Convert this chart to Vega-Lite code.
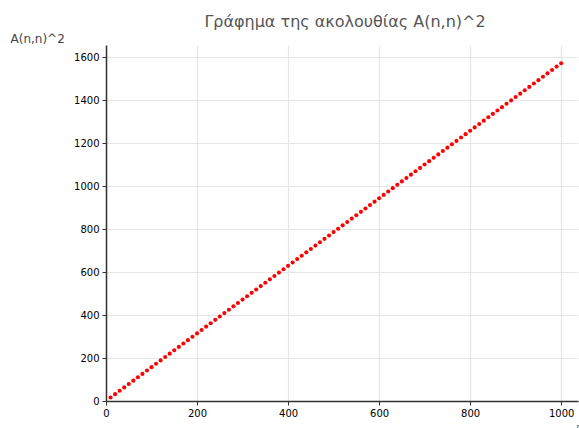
{
  "$schema": "https://vega.github.io/schema/vega-lite/v6.json",
  "width": 472,
  "height": 356,
  "autosize": {"type": "none"},
  "padding": {"left": 106, "top": 45, "right": 1, "bottom": 27},
  "background": "white",
  "title": {
    "text": "Γράφημα της ακολουθίας A(n,n)^2",
    "font": "DejaVu Sans",
    "fontSize": 16,
    "fontWeight": "normal",
    "color": "#555555",
    "anchor": "middle",
    "dx": 3,
    "offset": 2
  },
  "config": {
    "view": {"stroke": null},
    "axis": {
      "labelFont": "DejaVu Sans",
      "titleFont": "DejaVu Sans",
      "labelFontSize": 10,
      "labelColor": "#000000",
      "labelFlush": false,
      "domainColor": "#333333",
      "domainWidth": 1.5,
      "tickColor": "#333333",
      "gridColor": "#e6e6e6",
      "gridWidth": 1.2,
      "tickSize": 4,
      "format": "d"
    }
  },
  "data": {
    "values": [
      {"n": 10, "v": 16.1}, {"n": 20, "v": 31.8}, {"n": 30, "v": 47.5}, {"n": 40, "v": 63.2}, {"n": 50, "v": 78.9},
      {"n": 60, "v": 94.6}, {"n": 70, "v": 110.3}, {"n": 80, "v": 126.1}, {"n": 90, "v": 141.8}, {"n": 100, "v": 157.5},
      {"n": 110, "v": 173.2}, {"n": 120, "v": 188.9}, {"n": 130, "v": 204.6}, {"n": 140, "v": 220.3}, {"n": 150, "v": 236.0},
      {"n": 160, "v": 251.7}, {"n": 170, "v": 267.4}, {"n": 180, "v": 283.1}, {"n": 190, "v": 298.8}, {"n": 200, "v": 314.5},
      {"n": 210, "v": 330.3}, {"n": 220, "v": 346.0}, {"n": 230, "v": 361.7}, {"n": 240, "v": 377.4}, {"n": 250, "v": 393.1},
      {"n": 260, "v": 408.8}, {"n": 270, "v": 424.5}, {"n": 280, "v": 440.2}, {"n": 290, "v": 455.9}, {"n": 300, "v": 471.6},
      {"n": 310, "v": 487.3}, {"n": 320, "v": 503.0}, {"n": 330, "v": 518.8}, {"n": 340, "v": 534.5}, {"n": 350, "v": 550.2},
      {"n": 360, "v": 565.9}, {"n": 370, "v": 581.6}, {"n": 380, "v": 597.3}, {"n": 390, "v": 613.0}, {"n": 400, "v": 628.7},
      {"n": 410, "v": 644.4}, {"n": 420, "v": 660.1}, {"n": 430, "v": 675.8}, {"n": 440, "v": 691.5}, {"n": 450, "v": 707.2},
      {"n": 460, "v": 723.0}, {"n": 470, "v": 738.7}, {"n": 480, "v": 754.4}, {"n": 490, "v": 770.1}, {"n": 500, "v": 785.8},
      {"n": 510, "v": 801.5}, {"n": 520, "v": 817.2}, {"n": 530, "v": 832.9}, {"n": 540, "v": 848.6}, {"n": 550, "v": 864.3},
      {"n": 560, "v": 880.0}, {"n": 570, "v": 895.7}, {"n": 580, "v": 911.5}, {"n": 590, "v": 927.2}, {"n": 600, "v": 942.9},
      {"n": 610, "v": 958.6}, {"n": 620, "v": 974.3}, {"n": 630, "v": 990.0}, {"n": 640, "v": 1005.7}, {"n": 650, "v": 1021.4},
      {"n": 660, "v": 1037.1}, {"n": 670, "v": 1052.8}, {"n": 680, "v": 1068.5}, {"n": 690, "v": 1084.2}, {"n": 700, "v": 1100.0},
      {"n": 710, "v": 1115.7}, {"n": 720, "v": 1131.4}, {"n": 730, "v": 1147.1}, {"n": 740, "v": 1162.8}, {"n": 750, "v": 1178.5},
      {"n": 760, "v": 1194.2}, {"n": 770, "v": 1209.9}, {"n": 780, "v": 1225.6}, {"n": 790, "v": 1241.3}, {"n": 800, "v": 1257.0},
      {"n": 810, "v": 1272.7}, {"n": 820, "v": 1288.4}, {"n": 830, "v": 1304.2}, {"n": 840, "v": 1319.9}, {"n": 850, "v": 1335.6},
      {"n": 860, "v": 1351.3}, {"n": 870, "v": 1367.0}, {"n": 880, "v": 1382.7}, {"n": 890, "v": 1398.4}, {"n": 900, "v": 1414.1},
      {"n": 910, "v": 1429.8}, {"n": 920, "v": 1445.5}, {"n": 930, "v": 1461.2}, {"n": 940, "v": 1476.9}, {"n": 950, "v": 1492.6},
      {"n": 960, "v": 1508.4}, {"n": 970, "v": 1524.1}, {"n": 980, "v": 1539.8}, {"n": 990, "v": 1555.5}, {"n": 1000, "v": 1571.2}
    ]
  },
  "mark": {"type": "circle", "color": "#ff0000", "opacity": 1, "size": 17},
  "encoding": {
    "x": {
      "field": "n",
      "type": "quantitative",
      "scale": {"domain": [0, 1037], "nice": false, "zero": false},
      "axis": {"values": [0, 200, 400, 600, 800, 1000], "title": "n", "titleX": 470, "titleY": 22, "titleFontSize": 8, "titleFontWeight": "normal", "titleColor": "#444444", "titleAlign": "left", "titleBaseline": "top", "labelPadding": 3}
    },
    "y": {
      "field": "v",
      "type": "quantitative",
      "scale": {"domain": [0, 1656], "nice": false, "zero": false},
      "axis": {"values": [0, 200, 400, 600, 800, 1000, 1200, 1400, 1600], "title": "A(n,n)^2", "titleAngle": 0, "titleX": -96, "titleY": 0, "titleAlign": "left", "titleBaseline": "bottom", "titleFontSize": 12, "titleFontWeight": "normal", "titleColor": "#444444", "labelPadding": 3}
    }
  }
}
